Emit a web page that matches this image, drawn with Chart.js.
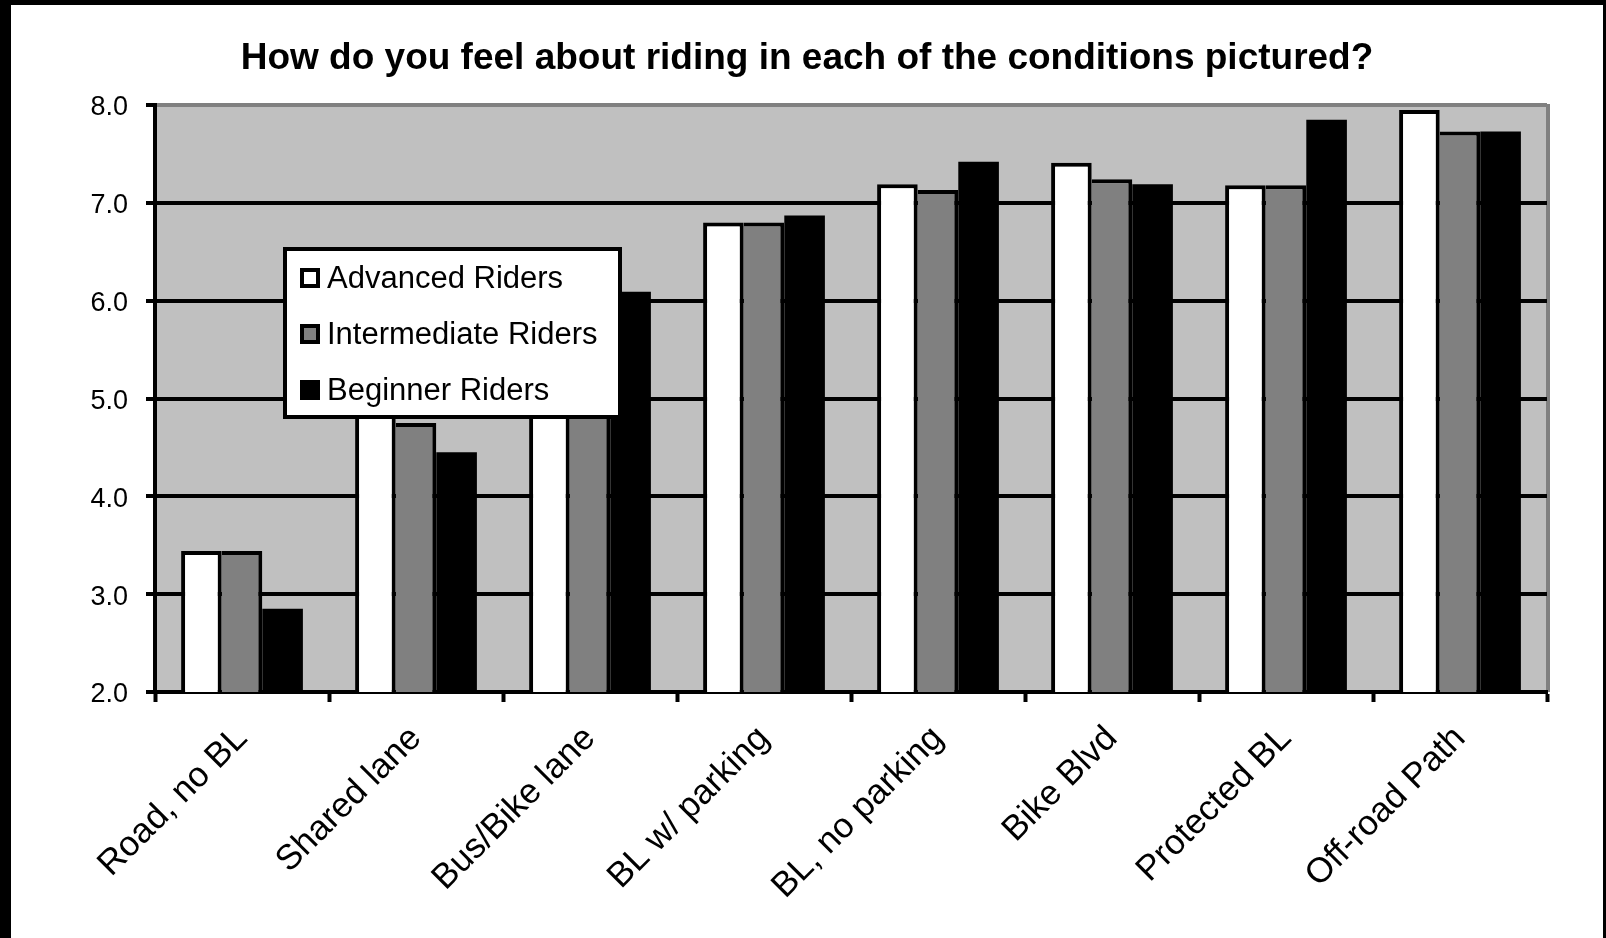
<!DOCTYPE html>
<html>
<head>
<meta charset="utf-8">
<script src="https://cdn.jsdelivr.net/npm/chart.js@4"></script>
<style>
  html, body { margin: 0; padding: 0; background: #fff; }
  #frame {
    position: absolute; left: 0; top: 0;
    width: 1606px; height: 938px; box-sizing: border-box;
    border-left: 11px solid #000; border-top: 5px solid #000; border-right: 3px solid #000;
    background: #fff;
  }
  canvas { display: block; }
</style>
</head>
<body>
<div id="frame"><canvas id="chart" width="1592" height="933"></canvas></div>
<script>
const titleText = 'How do you feel about riding in each of the conditions pictured?';
const categories = ['Road, no BL', 'Shared lane', 'Bus/Bike lane', 'BL w/ parking', 'BL, no parking', 'Bike Blvd', 'Protected BL', 'Off-road Path'];
const seriesNames = ['Advanced Riders', 'Intermediate Riders', 'Beginner Riders'];
const advanced = [3.44, 5.10, 5.60, 6.80, 7.19, 7.41, 7.18, 7.95];
const intermediate = [3.44, 4.75, 5.30, 6.80, 7.13, 7.24, 7.18, 7.73];
const beginner = [2.85, 4.45, 6.09, 6.87, 7.42, 7.19, 7.85, 7.73];
const yTicks = [2, 3, 4, 5, 6, 7, 8];

const FONT = "'Liberation Sans', Arial, sans-serif";

// grey plot area with grey top/right edge
const plotBg = {
  id: 'plotBg',
  beforeDraw(chart) {
    const { ctx, chartArea: a } = chart;
    ctx.save();
    ctx.fillStyle = '#C0C0C0';
    ctx.fillRect(a.left, a.top, a.right - a.left, a.bottom - a.top);
    ctx.strokeStyle = '#808080';
    ctx.lineWidth = 4;
    ctx.beginPath();
    ctx.moveTo(a.right + 1, a.top - 1);
    ctx.lineTo(a.right + 1, a.bottom);
    ctx.stroke();
    ctx.restore();
  }
};

// boxed legend sitting inside the plot, like the original
const boxLegend = {
  id: 'boxLegend',
  afterDraw(chart) {
    const { ctx, chartArea: a } = chart;
    const x = a.left + 130, y = a.top + 144, w = 335, h = 168;
    ctx.save();
    ctx.fillStyle = '#fff';
    ctx.fillRect(x, y, w, h);
    ctx.strokeStyle = '#000';
    ctx.lineWidth = 4;
    ctx.strokeRect(x, y, w, h);
    ctx.font = '31px ' + FONT;
    ctx.textBaseline = 'middle';
    chart.data.datasets.forEach((ds, i) => {
      const cy = y + 29 + i * 56;
      ctx.fillStyle = '#000';
      ctx.fillRect(x + 15, cy - 10, 20, 20);
      ctx.fillStyle = ds.backgroundColor;
      ctx.fillRect(x + 19, cy - 6, 12, 12);
      ctx.fillStyle = '#000';
      ctx.fillText(ds.label, x + 42, cy + 1);
    });
    ctx.restore();
  }
};

const colors = ['#FFFFFF', '#808080', '#000000'];
const borders = [
  { top: 4, left: 4, right: 4, bottom: 0 },
  { top: 4, left: 0, right: 4, bottom: 0 },
  0
];
const seriesValues = [advanced, intermediate, beginner];

new Chart(document.getElementById('chart'), {
  type: 'bar',
  data: {
    labels: categories,
    datasets: seriesNames.map((name, i) => ({
      label: name,
      data: seriesValues[i],
      backgroundColor: colors[i],
      borderColor: '#000',
      borderWidth: borders[i],
      borderSkipped: 'start',
      categoryPercentage: 0.7,
      barPercentage: 1.0
    }))
  },
  options: {
    responsive: false,
    animation: false,
    layout: { padding: { left: 56, right: 56, top: 0, bottom: 0 } },
    plugins: {
      legend: { display: false },
      tooltip: { enabled: false },
      title: {
        display: true,
        text: titleText,
        color: '#000',
        font: { family: FONT, size: 37, weight: 'bold' },
        padding: { top: 32, bottom: 23.6 }
      }
    },
    scales: {
      x: {
        offset: true,
        grid: { offset: true, drawOnChartArea: false, drawTicks: true, tickLength: 10, tickColor: '#000', tickWidth: 4 },
        border: { display: true, color: '#000', width: 4 },
        ticks: {
          autoSkip: false, minRotation: 45, maxRotation: 45,
          color: '#000', padding: 16,
          font: { family: FONT, size: 35 }
        },
        afterFit: s => { s.height = 246; }
      },
      y: {
        min: 2, max: 8,
        afterBuildTicks: s => { s.ticks = yTicks.map(v => ({ value: v })); },
        grid: {
          color: c => c.tick && c.tick.value === 8 ? '#808080' : '#000',
          lineWidth: 4,
          drawTicks: true, tickLength: 9, tickColor: '#000', tickWidth: 4
        },
        border: { display: true, color: '#000', width: 4 },
        ticks: {
          color: '#000', padding: 18, labelOffset: 3,
          font: { family: FONT, size: 27 },
          callback: v => Number(v).toFixed(1)
        },
        afterFit: s => { s.width = 88; }
      }
    }
  },
  plugins: [plotBg, boxLegend]
});
</script>
</body>
</html>
